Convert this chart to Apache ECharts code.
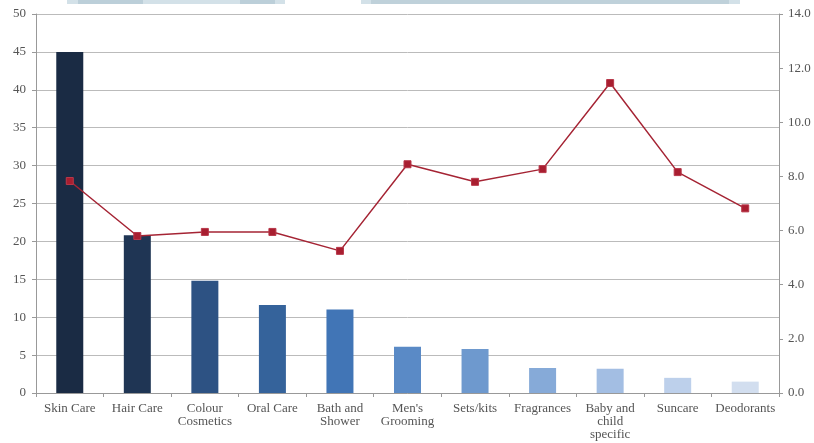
<!DOCTYPE html>
<html><head><meta charset="utf-8">
<script src="https://cdn.jsdelivr.net/npm/echarts@6/dist/echarts.min.js"></script>
<style>html,body{margin:0;padding:0;background:#fff}#c{width:814px;height:443px}</style>
</head><body><div id="c"></div>
<script>
const categories = ["Skin Care","Hair Care","Colour\nCosmetics","Oral Care","Bath and\nShower","Men's\nGrooming","Sets/kits","Fragrances","Baby and\nchild\nspecific","Suncare","Deodorants"];
const barValues = [45, 20.8, 14.8, 11.6, 11.0, 6.1, 5.8, 3.3, 3.2, 2.0, 1.5];
const lineValues = [7.83, 5.8, 5.95, 5.95, 5.25, 8.45, 7.8, 8.27, 11.45, 8.16, 6.82];
const barColors = ["#1a2b44","#1f3554","#2d5283","#35639b","#4175b6","#5a8ac6","#6e99ce","#86aad8","#a3bee3","#bdd0eb","#d2deef"];
const leftTicks = {min:0, max:50, interval:5};
const rightTicks = {min:0, max:14, interval:2};

const font = "Liberation Serif";
const chart = echarts.init(document.getElementById('c'), null, {renderer:'canvas'});
chart.setOption({
  animation:false,
  grid:{left:36,right:35,top:14,bottom:50},
  graphic:[
    {type:'rect',shape:{x:67,y:0,width:218,height:4},style:{fill:'#d3e1e8'}},
    {type:'rect',shape:{x:78,y:0,width:65,height:4},style:{fill:'#bccfd9'}},
    {type:'rect',shape:{x:240,y:0,width:35,height:4},style:{fill:'#bccfd9'}},
    {type:'rect',shape:{x:361,y:0,width:379,height:4},style:{fill:'#d3e1e8'}},
    {type:'rect',shape:{x:371,y:0,width:358,height:4},style:{fill:'#bfd1da'}}
  ],
  xAxis:{
    type:'category', data:categories,
    axisLine:{lineStyle:{color:'#999'}},
    axisTick:{show:true,lineStyle:{color:'#999'},length:4},
    axisLabel:{color:'#555',fontFamily:font,fontSize:13,interval:0,lineHeight:13,margin:9}
  },
  yAxis:[
    {type:'value',min:leftTicks.min,max:leftTicks.max,interval:leftTicks.interval,
     axisLine:{show:true,lineStyle:{color:'#999'}},
     axisTick:{show:true,length:4,lineStyle:{color:'#999'}},
     splitLine:{lineStyle:{color:'#bbb',width:1}},
     axisLabel:{color:'#555',fontFamily:font,fontSize:13,margin:10}},
    {type:'value',min:rightTicks.min,max:rightTicks.max,interval:rightTicks.interval,position:'right',
     axisLine:{show:true,lineStyle:{color:'#999'}},
     axisTick:{show:true,length:4,lineStyle:{color:'#999'}},
     splitLine:{show:false},
     axisLabel:{color:'#555',fontFamily:font,fontSize:13,margin:9,formatter:v=>v.toFixed(1)}}
  ],
  series:[
    {type:'bar',yAxisIndex:0,barWidth:27,
     data:barValues.map((v,i)=>({value:v,itemStyle:{color:barColors[i]}}))},
    {type:'line',yAxisIndex:1,data:lineValues,symbol:'rect',symbolSize:7,
     lineStyle:{color:'#a52434',width:1.5},
     itemStyle:{color:'#a81e30',borderColor:'#b8384a',borderWidth:1}}
  ]
});
</script></body></html>
